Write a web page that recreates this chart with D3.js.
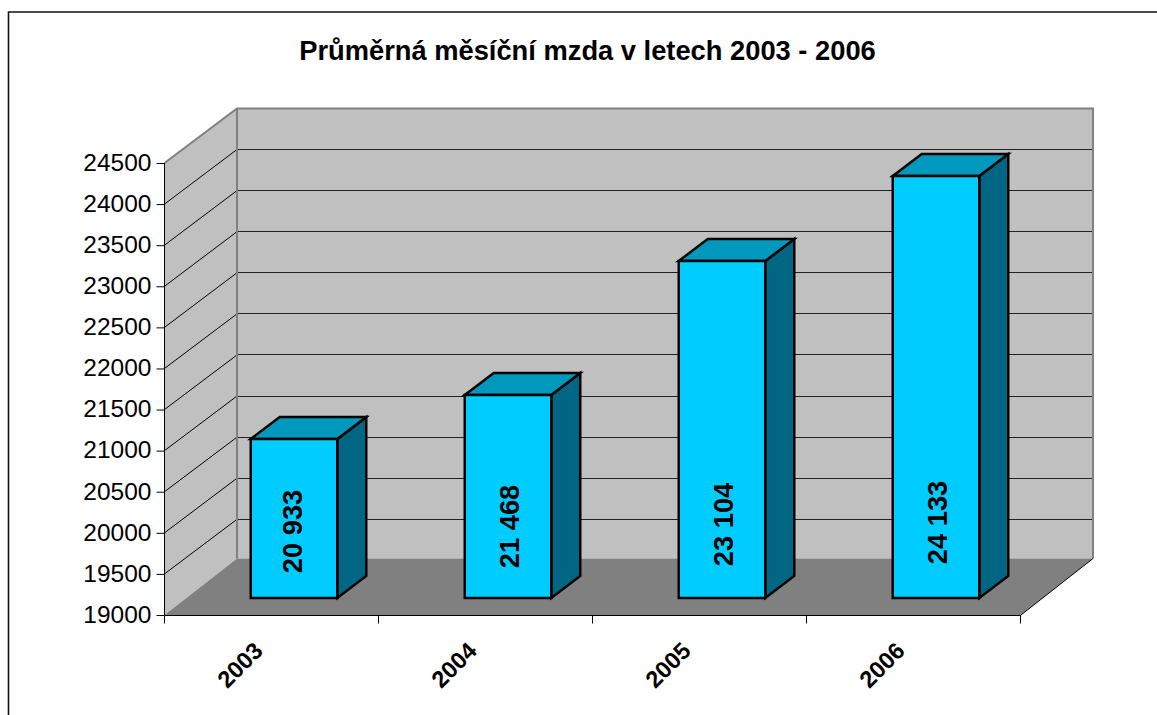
<!DOCTYPE html>
<html><head><meta charset="utf-8">
<script src="https://cdn.jsdelivr.net/npm/d3@7"></script>
<style>html,body{margin:0;padding:0;background:#fff}svg{display:block}text{font-family:"Liberation Sans",Arial,sans-serif;fill:#000}</style>
</head><body><script>
const categories = ["2003","2004","2005","2006"];
const values = [20933,21468,23104,24133];
const valueLabels = ["20 933","21 468","23 104","24 133"];
const yTicks = [19000,19500,20000,20500,21000,21500,22000,22500,23000,23500,24000,24500];
const titleText = "Průměrná měsíční mzda v letech 2003 - 2006";

const W=1157,H=715;
const svg=d3.select("body").append("svg").attr("width",W).attr("height",H);
const x=d3.scaleBand().domain(categories).range([165,1021]).padding(0);
const y=d3.scaleLinear().domain([19000,24500]).range([615,163]);
const DX=72,DY=-54.6,floorDY=-56.5;
const barDX=22,barDY=-17,barW=86.5,bDX=29,bDY=-22;
const labelShiftX=[-2,1.5,1.5,1.5], labelShiftY=[531.5,526.5,524.5,522.5];

// frame
svg.append("path").attr("d",`M8.5,${H}V12H${W}`).attr("fill","none").attr("stroke","#111").attr("stroke-width",1.6);

// title
svg.append("text").attr("x",587.5).attr("y",60).attr("text-anchor","middle").attr("font-weight","bold").attr("font-size",27.3).text(titleText);

// walls
const x0=x.range()[0],x1=x.range()[1],yb=y(19000),yt=y(24500);
const xa=x0-.5;
svg.append("path").attr("d",`M${x0+DX},${yt+DY}H${x1+DX}V${yb+floorDY}H${x0+DX}Z`).attr("fill","#c0c0c0");
svg.append("path").attr("d",`M${xa},${yb}V${yt}L${x0+DX},${yt+DY}V${yb+floorDY}Z`).attr("fill","#c0c0c0");
svg.append("path").attr("d",`M${xa},${yb}L${x0+DX},${yb+floorDY}H${x1+DX}L${x1},${yb}Z`).attr("fill","#808080");

// gridlines
const grid=yTicks.filter(t=>t>19000&&t<24500);
const gridG=svg.append("g");
grid.forEach(t=>{
  gridG.append("line").attr("x1",xa).attr("y1",y(t)).attr("x2",x0+DX).attr("y2",y(t)+DY).attr("stroke","#000");
  gridG.append("line").attr("x1",x0+DX).attr("y1",Math.floor(y(t)+DY)+.5).attr("x2",x1+DX).attr("y2",Math.floor(y(t)+DY)+.5).attr("stroke","#222");
});
// wall borders
svg.append("path").attr("d",`M${xa},${yt}L${x0+DX},${yt+DY}H${x1+DX}V${yb+floorDY}`).attr("fill","none").attr("stroke","#808080").attr("stroke-width",2);
svg.append("path").attr("d",`M${x0+DX},${yt+DY}V${yb+floorDY}`).attr("fill","none").attr("stroke","#808080").attr("stroke-width",2);
svg.append("path").attr("d",`M${x1},${yb}L${x1+DX},${yb+floorDY}`).attr("fill","none").attr("stroke","#000");

// axes
const yAxis=d3.axisLeft(y).tickValues(yTicks).tickFormat(d3.format("d")).tickSize(8).tickPadding(5);
const gy=svg.append("g").attr("transform",`translate(${x0-.5},0)`).call(yAxis);
gy.selectAll("text").attr("font-size",24.5).attr("dy","0.3em").style("font-family",'"Liberation Sans",Arial,sans-serif');
const xAxis=d3.axisBottom(x).tickSize(0).tickFormat("");
const gx=svg.append("g").attr("transform",`translate(0,${yb+.5})`).call(xAxis);
gx.selectAll("line").remove();
[0,1,2,3,4].forEach(i=>gx.append("line").attr("x1",x0+i*x.bandwidth()-.5).attr("x2",x0+i*x.bandwidth()-.5).attr("y1",0).attr("y2",8).attr("stroke","#000"));
gx.select(".domain").attr("stroke","#000").attr("d",`M${xa},0H${x1}`);
gy.select(".domain").attr("stroke","#000").attr("d",`M0,${yt}V${yb}`);

// x labels
categories.forEach(c=>{
  const cx=x(c)+x.bandwidth()/2-32, cy=665;
  svg.append("text").attr("transform",`translate(${cx},${cy}) rotate(-45)`).attr("text-anchor","middle").attr("dy","0.35em").attr("font-weight","bold").attr("font-size",23.5).text(c);
});

// bars
const bars=svg.append("g");
categories.forEach((c,i)=>{
  const cx=x(c)+x.bandwidth()/2+barDX;
  const l=cx-barW/2, r=l+barW;
  const base=yb+barDY;
  const top=Math.round(base-(yb-y(values[i])));
  const g=bars.append("g").attr("stroke","#000").attr("stroke-width",2.5).attr("stroke-linejoin","miter");
  g.append("path").attr("d",`M${r},${top}L${r+bDX},${top+bDY}V${base+bDY}L${r},${base}Z`).attr("fill","#006683");
  g.append("path").attr("d",`M${l},${top}L${l+bDX},${top+bDY}H${r+bDX}L${r},${top}Z`).attr("fill","#0099bd");
  g.append("rect").attr("x",l).attr("y",top).attr("width",barW).attr("height",base-top).attr("fill","#00ccff");
  const tx=(l+r)/2+labelShiftX[i], ty=labelShiftY[i];
  svg.append("text").attr("transform",`translate(${tx},${ty}) rotate(-90)`).attr("text-anchor","middle").attr("dy","0.36em").attr("font-weight","bold").attr("font-size",27.3).text(valueLabels[i]);
});
</script></body></html>
